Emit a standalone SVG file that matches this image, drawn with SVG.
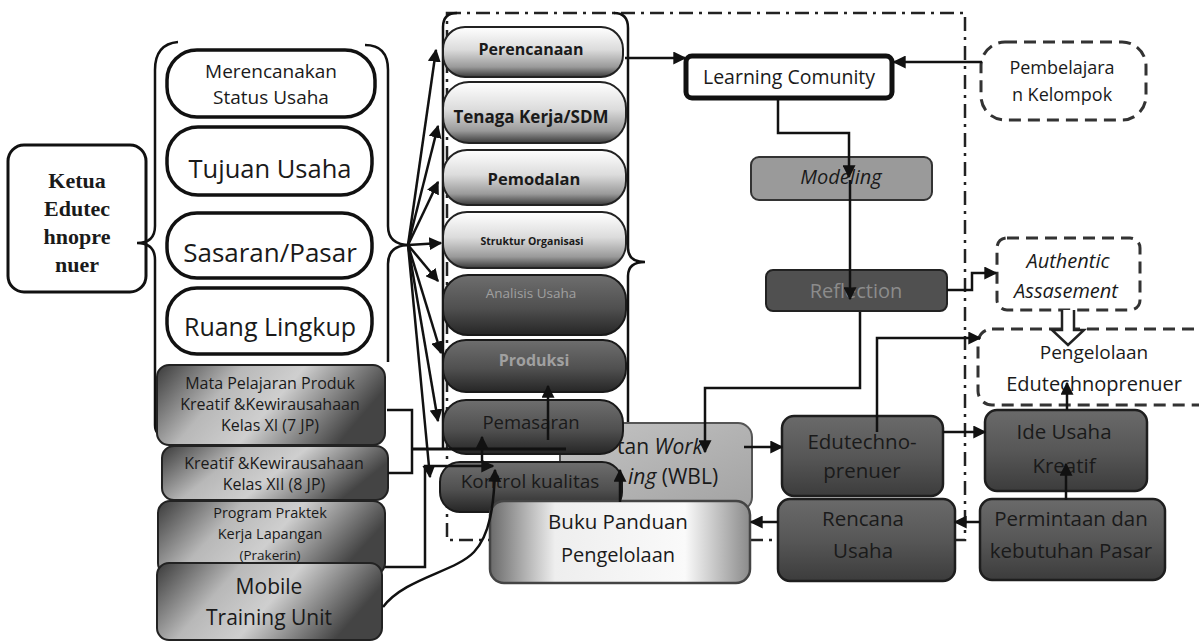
<svg xmlns="http://www.w3.org/2000/svg" width="1199" height="643" viewBox="0 0 1199 643">
<defs>
<linearGradient id="gLight" x1="0" y1="0" x2="0" y2="1">
<stop offset="0" stop-color="#ffffff"/><stop offset="0.45" stop-color="#dcdcdc"/><stop offset="0.8" stop-color="#9a9a9a"/><stop offset="1" stop-color="#3a3a3a"/>
</linearGradient>
<linearGradient id="gDark" x1="0" y1="0" x2="0" y2="1">
<stop offset="0" stop-color="#6e6e6e"/><stop offset="0.55" stop-color="#505050"/><stop offset="1" stop-color="#262626"/>
</linearGradient>
<linearGradient id="gMata" x1="0" y1="0" x2="1" y2="0.3">
<stop offset="0" stop-color="#3a3a3a"/><stop offset="0.35" stop-color="#b8b8b8"/><stop offset="0.6" stop-color="#cfcfcf"/><stop offset="1" stop-color="#444"/>
</linearGradient>
<linearGradient id="gBuku" x1="0" y1="0" x2="1" y2="0">
<stop offset="0" stop-color="#6a6a6a"/><stop offset="0.25" stop-color="#eeeeee"/><stop offset="0.75" stop-color="#fafafa"/><stop offset="1" stop-color="#8a8a8a"/>
</linearGradient>
<linearGradient id="gWBL" x1="0" y1="0" x2="1" y2="1">
<stop offset="0" stop-color="#c4c4c4"/><stop offset="1" stop-color="#a2a2a2"/>
</linearGradient>
<linearGradient id="gBox" x1="0" y1="0" x2="0" y2="1">
<stop offset="0" stop-color="#6a6a6a"/><stop offset="0.5" stop-color="#575757"/><stop offset="1" stop-color="#3c3c3c"/>
</linearGradient>
<marker id="ah" viewBox="0 0 10 10" refX="9" refY="5" markerWidth="13" markerHeight="13" markerUnits="userSpaceOnUse" orient="auto">
<path d="M0,0 L10,5 L0,10 z" fill="#111"/>
</marker>
</defs>
<style>
text{font-family:"Open Sans","Liberation Sans",sans-serif;fill:#1a1a1a;text-anchor:middle}
.pill{fill:#fff;stroke:#111;stroke-width:3.5}
.lp{fill:url(#gLight);stroke:#222;stroke-width:2}
.dp{fill:url(#gDark);stroke:#1a1a1a;stroke-width:2}
.mata{fill:url(#gMata);stroke:#222;stroke-width:2}
.bx{fill:url(#gBox);stroke:#1e1e1e;stroke-width:2.5}
.dash{fill:#fff;stroke:#333;stroke-width:3;stroke-dasharray:12 7}
.ln{fill:none;stroke:#111;stroke-width:2.5}
.ar{fill:none;stroke:#111;stroke-width:2.5;marker-end:url(#ah)}
.dd{fill:none;stroke:#222;stroke-width:2.5;stroke-dasharray:14 6 3 6}
.b{font-weight:bold}
.i{font-style:italic}
.serif{font-family:"Liberation Serif",serif;font-weight:bold;font-size:22px}
</style>
<rect width="1199" height="643" fill="#fff"/>

<g id="frame">
<path class="dd" d="M447 13 H965 V540 H447 Z"/>
</g>

<g id="ketua">
<rect x="8" y="145" width="138" height="147" rx="16" fill="#fff" stroke="#111" stroke-width="3"/>
<text class="serif" x="77" y="188">Ketua</text>
<text class="serif" x="77" y="216">Edutec</text>
<text class="serif" x="77" y="244">hnopre</text>
<text class="serif" x="77" y="272">nuer</text>
</g>

<g id="braces">
<path class="ln" d="M178 42 Q155 44 155 70 V226 Q155 243 137 243 Q155 243 155 260 V425 Q155 436 166 436"/>
<path class="ln" d="M365 45 Q388 45 388 70 V226 Q388 245 410 245 Q388 245 388 264 V362"/>
<path class="ln" d="M457 13 Q443 13 443 27 V450"/>
<path class="ln" d="M614 13 Q628 13 628 28 V248 Q628 262 645 262 Q628 262 628 276 V500"/>
</g>

<g id="merencanakan"><rect class="pill" x="167" y="50" width="208" height="67" rx="30"/>
<text x="271" y="78" style="font-size:19px">Merencanakan</text><text x="271" y="104" style="font-size:19px">Status Usaha</text></g>
<g id="tujuan"><rect class="pill" x="167" y="127" width="205" height="68" rx="31"/>
<text x="270" y="178" style="font-size:25.5px">Tujuan Usaha</text></g>
<g id="sasaran"><rect class="pill" x="167" y="213" width="205" height="65" rx="30"/>
<text x="270" y="262" style="font-size:26px">Sasaran/Pasar</text></g>
<g id="ruang"><rect class="pill" x="167" y="288" width="205" height="66" rx="30"/>
<text x="270" y="336" style="font-size:25px">Ruang Lingkup</text></g>

<g id="mata11"><rect class="mata" x="157" y="365" width="228" height="80" rx="12"/>
<text x="270" y="389" style="font-size:16px">Mata Pelajaran Produk</text>
<text x="270" y="410" style="font-size:16px">Kreatif &amp;Kewirausahaan</text>
<text x="270" y="431" style="font-size:16px">Kelas XI (7  JP)</text></g>
<g id="mata12"><rect class="mata" x="162" y="446" width="226" height="54" rx="12"/>
<text x="274" y="469" style="font-size:16px">Kreatif &amp;Kewirausahaan</text>
<text x="274" y="490" style="font-size:16px">Kelas XII (8  JP)</text></g>
<g id="prakerin"><rect class="mata" x="158" y="501" width="227" height="74" rx="12"/>
<text x="270" y="518" style="font-size:14.5px">Program Praktek</text>
<text x="270" y="539" style="font-size:14.5px">Kerja Lapangan</text>
<text x="270" y="560" style="font-size:13.5px">(Prakerin)</text></g>
<g id="mobile"><rect class="mata" x="157" y="563" width="225" height="77" rx="12"/>
<text x="269" y="594" style="font-size:21px">Mobile</text>
<text x="269" y="625" style="font-size:21px">Training Unit</text></g>

<g id="perencanaan"><rect class="lp" x="443" y="27" width="180" height="50" rx="22"/>
<text class="b" x="531" y="55" style="font-size:16px">Perencanaan</text></g>
<g id="tenaga"><rect class="lp" x="443" y="82" width="183" height="61" rx="26"/>
<text class="b" x="531" y="123" style="font-size:17px">Tenaga Kerja/SDM</text></g>
<g id="pemodalan"><rect class="lp" x="443" y="150" width="183" height="55" rx="24"/>
<text class="b" x="534" y="185" style="font-size:16.5px">Pemodalan</text></g>
<g id="struktur"><rect class="lp" x="443" y="212" width="183" height="56" rx="24"/>
<text class="b" x="532" y="245" style="font-size:10.5px">Struktur Organisasi</text></g>

<g id="wbl"><rect x="560" y="423" width="192" height="88" rx="14" fill="url(#gWBL)" stroke="#555" stroke-width="2"/>
<text x="617" y="454" style="font-size:21px;text-anchor:start">tan <tspan class="i">Work</tspan></text>
<text x="628" y="484" style="font-size:21px;text-anchor:start"><tspan class="i">ing</tspan> (WBL)</text></g>

<g id="analisis"><rect class="dp" x="443" y="275" width="183" height="60" rx="25"/>
<text x="531" y="298" style="font-size:13.5px;fill:#a0a0a0">Analisis Usaha</text></g>
<g id="produksi"><rect class="dp" x="443" y="340" width="183" height="52" rx="23"/>
<text class="b" x="534" y="366" style="font-size:16px;fill:#a0a0a0">Produksi</text></g>
<g id="pemasaran"><rect class="dp" x="443" y="400" width="180" height="54" rx="23"/>
<text x="531" y="429" style="font-size:18.5px">Pemasaran</text></g>
<g id="kontrol"><rect class="dp" x="440" y="462" width="182" height="50" rx="20"/>
<text x="530" y="488" style="font-size:19px">Kontrol kualitas</text></g>

<g id="buku"><rect x="490" y="501" width="260" height="82" rx="14" fill="url(#gBuku)" stroke="#444" stroke-width="2.5"/>
<text x="618" y="529" style="font-size:20.5px">Buku Panduan</text>
<text x="618" y="562" style="font-size:20px">Pengelolaan</text></g>

<g id="learning"><rect x="686" y="56" width="206" height="42" rx="6" fill="#fff" stroke="#111" stroke-width="5"/>
<text x="789" y="84" style="font-size:19.5px">Learning Comunity</text></g>
<g id="modeling"><rect x="751" y="157" width="181" height="43" rx="8" fill="#9a9a9a" stroke="#333" stroke-width="2"/>
<text class="i" x="841" y="184" style="font-size:20px">Modeling</text></g>
<g id="reflection"><rect x="766" y="270" width="181" height="41" rx="7" fill="#505050" stroke="#222" stroke-width="2"/>
<text x="856" y="298" style="font-size:20px;fill:#8c8c8c">Reflection</text></g>

<g id="pembelajaran"><rect class="dash" x="981" y="42" width="165" height="78" rx="24"/>
<text x="1062" y="74" style="font-size:18px">Pembelajara</text>
<text x="1062" y="101" style="font-size:18px">n Kelompok</text></g>
<g id="authentic"><rect class="dash" x="997" y="238" width="143" height="72" rx="10"/>
<text class="i" x="1068" y="268" style="font-size:20px">Authentic</text>
<text class="i" x="1066" y="298" style="font-size:20px">Assasement</text></g>
<g id="pengelolaan"><rect class="dash" x="978" y="329" width="240" height="76" rx="14"/>
<text x="1094" y="359" style="font-size:19px">Pengelolaan</text>
<text x="1094" y="391" style="font-size:20px">Edutechnoprenuer</text></g>

<g id="edutechno"><rect class="bx" x="782" y="416" width="161" height="80" rx="12"/>
<text x="862" y="449" style="font-size:20.5px">Edutechno-</text>
<text x="862" y="478" style="font-size:20.5px">prenuer</text></g>
<g id="ide"><rect class="bx" x="985" y="410" width="162" height="81" rx="12"/>
<text x="1064" y="439" style="font-size:20.5px">Ide Usaha</text>
<text x="1064" y="473" style="font-size:20.5px">Kreatif</text></g>
<g id="rencana"><rect class="bx" x="778" y="499" width="177" height="82" rx="12"/>
<text x="863" y="526" style="font-size:20.5px">Rencana</text>
<text x="863" y="558" style="font-size:20.5px">Usaha</text></g>
<g id="permintaan"><rect class="bx" x="980" y="499" width="185" height="81" rx="12"/>
<text x="1071" y="526" style="font-size:20.5px">Permintaan dan</text>
<text x="1071" y="558" style="font-size:20.5px">kebutuhan Pasar</text></g>

<g id="connectors">
<path class="ar" d="M408 245 L436 50"/>
<path class="ar" d="M408 245 L438 126"/>
<path class="ar" d="M408 245 L438 182"/>
<path class="ar" d="M408 245 L441 243"/>
<path class="ar" d="M408 245 L438 281"/>
<path class="ar" d="M408 245 L441 353"/>
<path class="ar" d="M408 245 L438 421"/>
<path class="ar" d="M408 245 L430 477"/>
<path class="ln" d="M387 410 H412 V473 H388"/>
<path class="ln" d="M412 449 H566" style="stroke-width:3"/>
<path class="ar" d="M385 567 H425 V466 H493"/>
<path class="ar" d="M383 607 C405 578 455 572 474 552 C490 535 494 505 495 470"/>
<path class="ar" d="M482 462 V437"/>
<path class="ar" d="M548 440 V386"/>
<path class="ar" d="M620 502 V470"/>
<path class="ar" d="M625 58 H685"/>
<path class="ar" d="M982 62 H894"/>
<path class="ar" d="M778 98 V133 H849 V177"/>
<path class="ar" d="M850 180 V299"/>
<path class="ar" d="M947 290 H972 V273 H996"/>
<path d="M1062 310 V330 H1052 L1068 345 L1084 330 H1074 V310" fill="#fff" stroke="#222" stroke-width="2.5"/>
<path class="ar" d="M860 312 V388 H705 V452"/>
<path class="ar" d="M744 447 H782"/>
<path class="ar" d="M877 432 V338 H980"/>
<path class="ar" d="M943 432 H985"/>
<path class="ar" d="M1067 410 V383"/>
<path class="ar" d="M1066 500 V464"/>
<path class="ar" d="M980 522 H955"/>
<path class="ar" d="M778 522 H751"/>
</g>
</svg>
